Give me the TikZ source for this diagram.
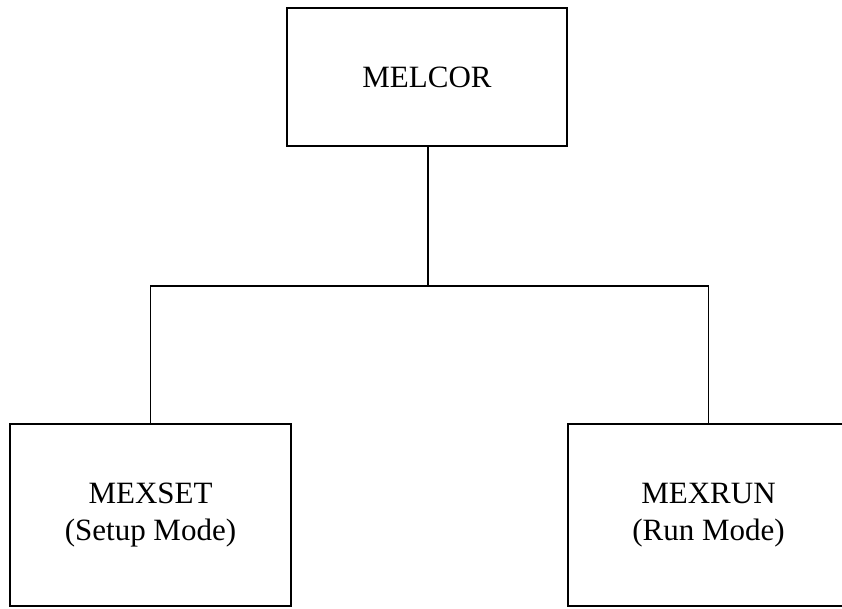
\documentclass[tikz,border=0pt]{standalone}
\usepackage{fontspec}
\setmainfont{Liberation Serif}
\tikzset{
  modbox/.style={
    draw=black,
    line width=1.8pt,
    align=center,
    inner sep=0pt,
    font=\fontsize{31}{37}\selectfont
  },
  top-box/.style={modbox, minimum width=280pt, minimum height=138pt},
  mode-box/.style={modbox, minimum width=281pt, minimum height=182pt},
  link/.style={line width=1.4pt, line cap=rect}
}

\begin{document}
\begin{tikzpicture}[x=1pt,y=-1pt]
  \useasboundingbox (0,0) rectangle (842,608);
  \clip (0,0) rectangle (842,608);

  % Program and its two modes
  \node[top-box]  (melcor) at (427,77)   {MELCOR};
  \node[mode-box] (mexset) at (150.5,515) {MEXSET\\(Setup Mode)};
  \node[mode-box] (mexrun) at (708.5,515) {MEXRUN\\(Run Mode)};

  % Branch point of the tree
  \coordinate (bus) at (428,286);

  % Connectors
  \draw[link] (melcor.south -| bus) -- (bus);
  \draw[link] (mexset.north) |- (bus) -| (mexrun.north);
\end{tikzpicture}
\end{document}
